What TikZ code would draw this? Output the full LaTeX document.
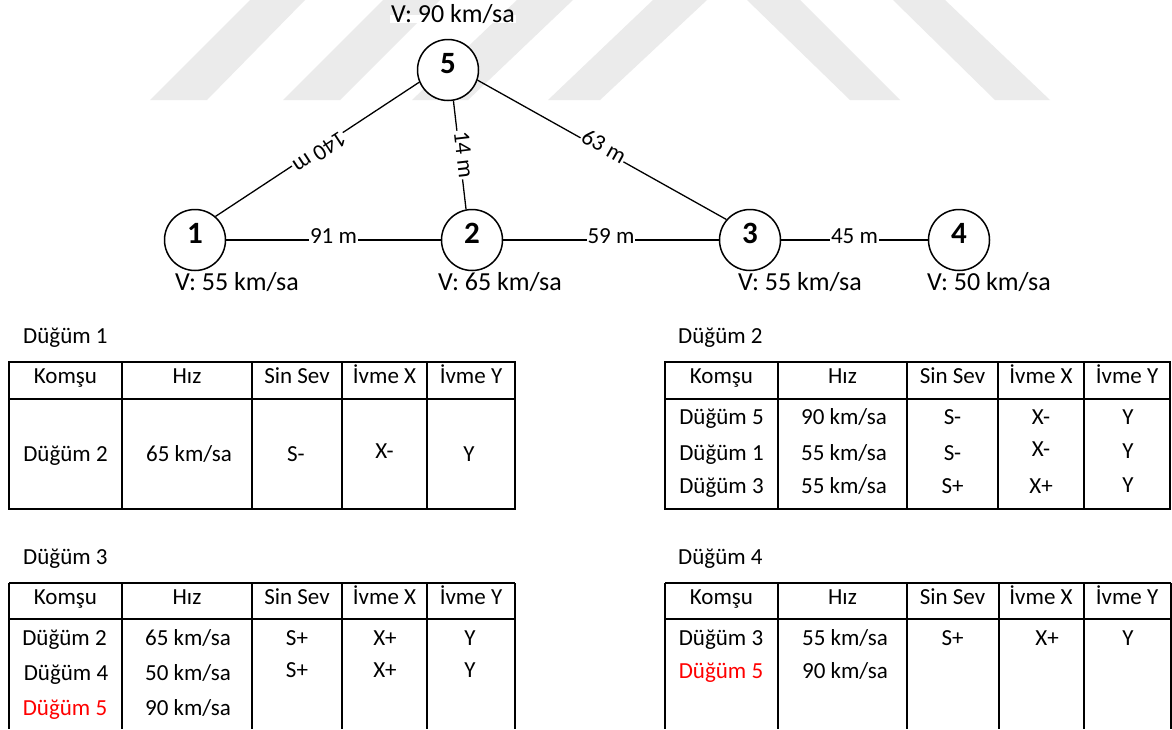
\documentclass[tikz,border=0pt]{standalone}
\usepackage{fontspec}
\setmainfont{Carlito}
\begin{document}
\begin{tikzpicture}[x=1pt,y=-1pt,
  txt/.style={inner sep=0pt, text height=0.64em, text depth=0pt},
  big/.style={txt, font=\fontsize{26}{30}\selectfont},
  small/.style={txt, font=\fontsize{23}{27}\selectfont},
  vertex/.style={circle, draw, fill=white, line width=1.5pt, minimum size=61pt, inner sep=0pt,
    text height=0.64em, text depth=0pt, font=\fontsize{31}{34}\selectfont\bfseries},
  link/.style={line width=1.3pt},
  elabel/.style={small, fill=white, inner xsep=1pt, inner ysep=2pt},
  tablerule/.style={line width=1.6pt},
  hit/.style={text=red},
  stripe/.style={fill=black!8, draw=none}]
\useasboundingbox (0,0) rectangle (1172,729);
\fill[white] (0,0) rectangle (1172,729);

% faint stripes across the top
\fill[stripe] (150,100) -- (207,100) -- (305,0) -- (250,0) -- cycle;
\fill[stripe] (283,100) -- (340,100) -- (440,0) -- (383,0) -- cycle;
\fill[stripe] (412,100) -- (468,100) -- (573,0) -- (517,0) -- cycle;
\fill[stripe] (548,100) -- (600,100) -- (707,0) -- (653,0) -- cycle;
\fill[stripe] (747,0) -- (800,0) -- (900,100) -- (850,100) -- cycle;
\fill[stripe] (893,0) -- (945,0) -- (1050,100) -- (995,100) -- cycle;

% network
\node[vertex] (n5) at (448,70) {5};
\node[vertex] (n1) at (195,240) {1};
\node[vertex] (n2) at (472,240) {2};
\node[vertex] (n3) at (750,240) {3};
\node[vertex] (n4) at (959,240) {4};

\node[big, fill=white, inner sep=1pt] (v5) at (453,19) {V: 90 km/sa};
\node[big] (v1) at (237,287) {V: 55 km/sa};
\node[big] (v2) at (500,287) {V: 65 km/sa};
\node[big] (v3) at (800,287) {V: 55 km/sa};
\node[big] (v4) at (989,287) {V: 50 km/sa};

\draw[link] (n5.203) -- node[elabel, sloped, allow upside down] (e51) {140 m} (n1.49);
\draw[link] (n5.280) -- node[elabel, sloped, allow upside down] (e52) {14 m} (n2.101);
\draw[link] (n5.341) -- node[elabel, sloped, allow upside down] (e53) {63 m} (n3.139);
\draw[link] (n1) -- node[elabel] (e12) {91 m} (n2);
\draw[link] (n2) -- node[elabel] (e23) {59 m} (n3);
\draw[link] (n3) -- node[elabel] (e34) {45 m} (n4);

% table titles
\node[small, anchor=west] (t1) at (23,340) {Düğüm 1};
\node[small, anchor=west] (t2) at (678,340) {Düğüm 2};
\node[small, anchor=west] (t3) at (23,561) {Düğüm 3};
\node[small, anchor=west] (t4) at (678,561) {Düğüm 4};

% table grids
\draw[tablerule] (9,362) rectangle (515,509);
\draw[tablerule] (9,399) -- (515,399);
\foreach \x in {122,252,342,427} \draw[tablerule] (\x,362) -- (\x,509);

\draw[tablerule] (665,362) rectangle (1170,509);
\draw[tablerule] (665,399) -- (1170,399);
\foreach \x in {778,907,998,1084} \draw[tablerule] (\x,362) -- (\x,509);

\draw[tablerule] (9,583) -- (515,583);
\draw[tablerule] (9,619) -- (515,619);
\foreach \x in {9,122,252,342,427,515} \draw[tablerule] (\x,583) -- (\x,729);

\draw[tablerule] (665,583) -- (1171,583);
\draw[tablerule] (665,619) -- (1171,619);
\foreach \x in {665,778,907,999,1084,1171} \draw[tablerule] (\x,583) -- (\x,729);

% headers
\foreach \x/\t [count=\i] in {65.5/Komşu,187/Hız,297/Sin Sev,384.5/İvme X,471/İvme Y} {
  \node[small] (ha\i) at (\x,380) {\t};
  \node[small] (hc\i) at (\x,601) {\t};
}
\foreach \x/\t [count=\i] in {721.5/Komşu,842.5/Hız,952.5/Sin Sev,1041/İvme X,1127/İvme Y} {
  \node[small] (hb\i) at (\x,380) {\t};
  \node[small] (hd\i) at (\x,601) {\t};
}

% Düğüm 1 table body
\node[small] (a11) at (65.5,458) {Düğüm 2};
\node[small] (a12) at (189,458) {65 km/sa};
\node[small] (a13) at (296,458) {S-};
\node[small] (a14) at (384.5,455) {X-};
\node[small] (a15) at (469,458) {Y};

% Düğüm 2 table body
\node[small] (b11) at (721.5,421) {Düğüm 5};
\node[small] (b12) at (844,421) {90 km/sa};
\node[small] (b13) at (952.5,421) {S-};
\node[small] (b14) at (1041,421) {X-};
\node[small] (b15) at (1128,421) {Y};
\node[small] (b21) at (721.5,457) {Düğüm 1};
\node[small] (b22) at (844,457) {55 km/sa};
\node[small] (b23) at (952.5,457) {S-};
\node[small] (b24) at (1041,453) {X-};
\node[small] (b25) at (1128,455) {Y};
\node[small] (b31) at (721.5,490) {Düğüm 3};
\node[small] (b32) at (844,490) {55 km/sa};
\node[small] (b33) at (952.5,490) {S+};
\node[small] (b34) at (1041,490) {X+};
\node[small] (b35) at (1128,489) {Y};

% Düğüm 3 table body
\node[small] (c11) at (64.5,642) {Düğüm 2};
\node[small] (c12) at (188,642) {65 km/sa};
\node[small] (c13) at (297,642) {S+};
\node[small] (c14) at (385,642) {X+};
\node[small] (c15) at (470,642) {Y};
\node[small] (c21) at (66,677) {Düğüm 4};
\node[small] (c22) at (188,677) {50 km/sa};
\node[small] (c23) at (297,674) {S+};
\node[small] (c24) at (385,674) {X+};
\node[small] (c25) at (470,674) {Y};
\node[small, hit] (c31) at (65,712) {Düğüm 5};
\node[small] (c32) at (188,712) {90 km/sa};

% Düğüm 4 table body
\node[small] (d11) at (721,642) {Düğüm 3};
\node[small] (d12) at (845,642) {55 km/sa};
\node[small] (d13) at (952.5,642) {S+};
\node[small] (d14) at (1047,642) {X+};
\node[small] (d15) at (1128,642) {Y};
\node[small, hit] (d21) at (721,675) {Düğüm 5};
\node[small] (d22) at (845,675) {90 km/sa};
\end{tikzpicture}
\end{document}
